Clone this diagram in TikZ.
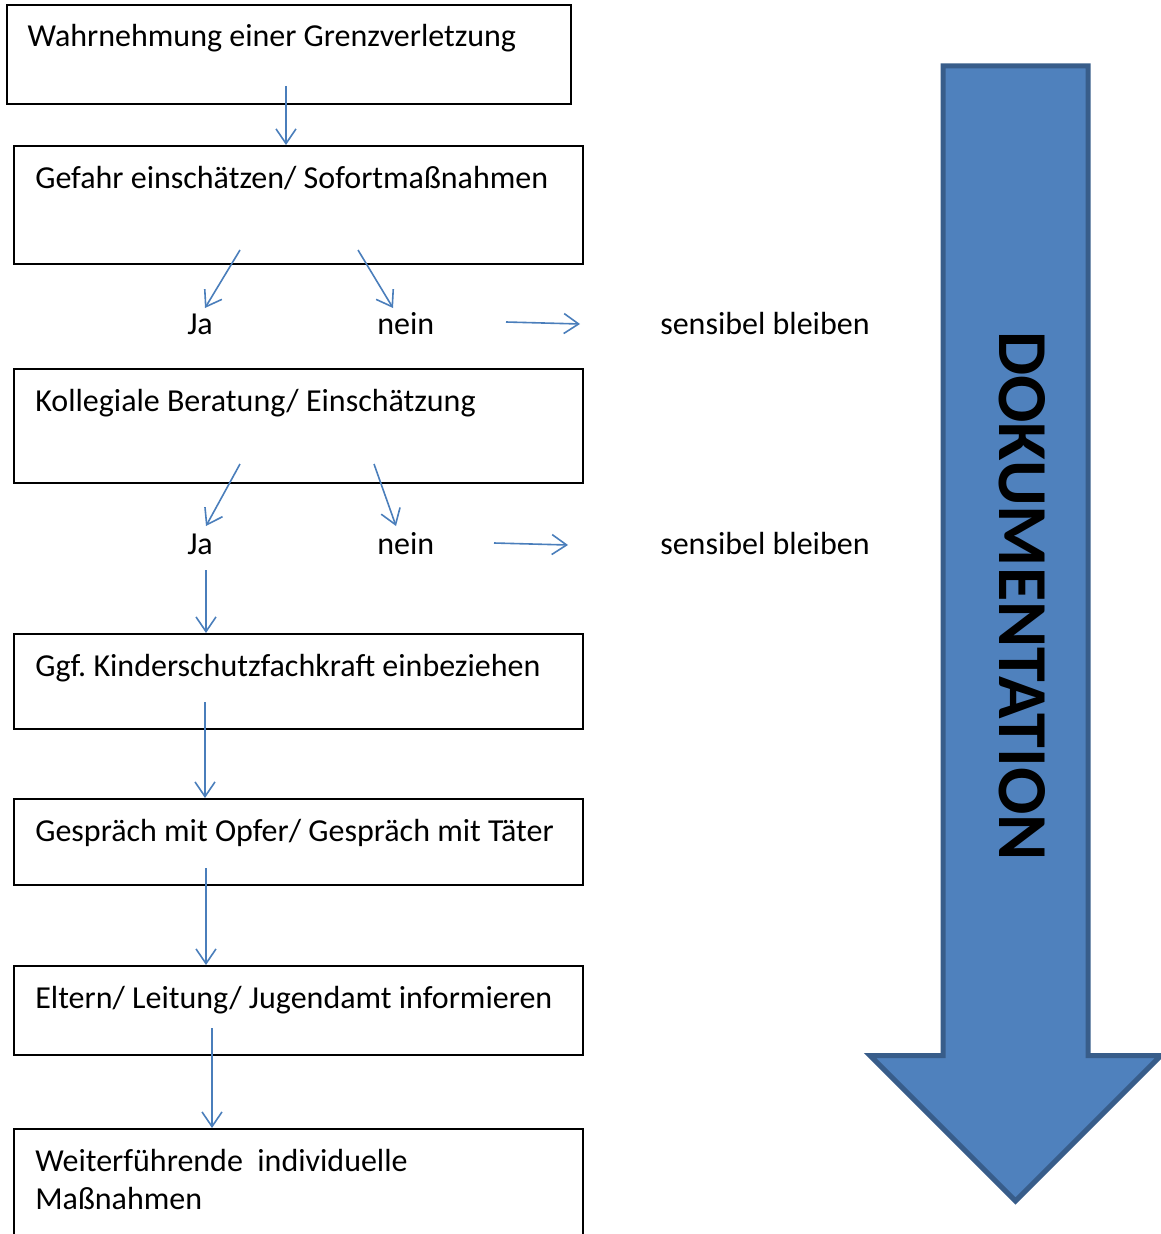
\documentclass[tikz,border=0pt]{standalone}
\usepackage{fontspec}
\setmainfont{Carlito}
\usetikzlibrary{arrows.meta}
\frenchspacing

\definecolor{linkblue}{HTML}{4A7EBB}
\definecolor{docfill}{HTML}{4F81BD}
\definecolor{docline}{HTML}{385D8A}

\tikzset{
  flowbox/.style={draw=black, line width=1.5pt, anchor=north west, inner xsep=16pt, inner ysep=0pt,
    text height=31.5pt, text width=394.75pt, align=flush left, font=\fontsize{24}{28.5}\selectfont},
  flowtext/.style={anchor=base west, inner sep=0pt, font=\fontsize{24}{28.5}\selectfont},
  flowarrow/.style={draw=linkblue, line width=1.2pt, -{Straight Barb[length=11pt,width=15pt]}},
  doctext/.style={rotate=-90, anchor=base, inner sep=0pt, font=\bfseries\fontsize{52.6}{60}\selectfont}
}

\begin{document}
\begin{tikzpicture}[x=0.75pt,y=0.75pt,yscale=-1,xscale=1]
\useasboundingbox (0,0) rectangle (1160,1234);

%Block Arrow
\draw [docline, fill=docfill, line width=3.75pt, line join=miter] (943,66) -- (1088,66) -- (1088,1055.5) -- (1161,1055.5) -- (1015.5,1201) -- (870,1055.5) -- (943,1055.5) -- cycle;
% Text Node
\node [doctext] (doku) at (999,596) {DOKUMENTATION};

%Boxes
\node [flowbox, text depth=42.75pt, text width=392pt, inner xsep=15.5pt] (grenze) at (6,4) {Wahrnehmung einer Grenzverletzung};
\node [flowbox, text depth=57pt] (gefahr) at (13,145) {Gefahr einschätzen/ Sofortmaßnahmen};
\node [flowbox, text depth=54pt] (beratung) at (13,368) {Kollegiale Beratung/ Einschätzung};
\node [flowbox, text depth=39.75pt] (kinder) at (13,633) {Ggf. Kinderschutzfachkraft einbeziehen};
\node [flowbox, text depth=33pt] (gespraech) at (13,798) {Gespräch mit Opfer/ Gespräch mit Täter};
\node [flowbox, text depth=35.25pt] (eltern) at (13,965) {Eltern/ Leitung/ Jugendamt informieren};
\node [flowbox, text depth=80pt] (massnahmen) at (13,1128) {Weiterführende\ \ individuelle\\Maßnahmen};

% Text Node
\node [flowtext] (ja1) at (187,334) {Ja};
\node [flowtext] (nein1) at (377,334) {nein};
\node [flowtext] (sensibel1) at (660,334) {sensibel bleiben};
\node [flowtext] (ja2) at (187,554) {Ja};
\node [flowtext] (nein2) at (377,554) {nein};
\node [flowtext] (sensibel2) at (660,554) {sensibel bleiben};

%Arrow ends
\coordinate (a1) at (286,86);
\coordinate (j1s) at (240,250);
\coordinate (j1e) at (205,308);
\coordinate (n1s) at (358,250);
\coordinate (n1e) at (393,308);
\coordinate (r1s) at (506,322);
\coordinate (r1e) at (580,324);
\coordinate (j2s) at (240,464);
\coordinate (j2e) at (206,526);
\coordinate (n2s) at (374,464);
\coordinate (n2e) at (396,526);
\coordinate (r2s) at (494,543);
\coordinate (r2e) at (568,545);
\coordinate (a2) at (206,570);
\coordinate (a3) at (205,702);
\coordinate (a4) at (206,868);
\coordinate (a5) at (212,1028);

%Straight Lines
\draw [flowarrow] (a1) -- (a1 |- gefahr.north);
\draw [flowarrow] (j1s) -- (j1e);
\draw [flowarrow] (n1s) -- (n1e);
\draw [flowarrow] (r1s) -- (r1e);
\draw [flowarrow] (j2s) -- (j2e);
\draw [flowarrow] (n2s) -- (n2e);
\draw [flowarrow] (r2s) -- (r2e);
\draw [flowarrow] (a2) -- (a2 |- kinder.north);
\draw [flowarrow] (a3) -- (a3 |- gespraech.north);
\draw [flowarrow] (a4) -- (a4 |- eltern.north);
\draw [flowarrow] (a5) -- (a5 |- massnahmen.north);
\end{tikzpicture}
\end{document}
